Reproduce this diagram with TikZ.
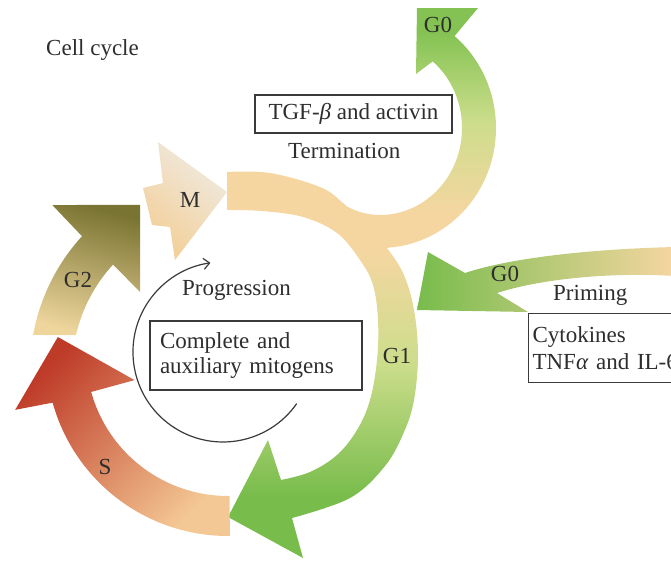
\documentclass[tikz,border=0pt]{standalone}
\usepackage{fontspec}
\setmainfont{Liberation Serif}
\usetikzlibrary{arrows.meta}
\definecolor{txtc}{HTML}{2E2E2E}
\definecolor{boxc}{HTML}{3A3A3A}
\definecolor{peach}{HTML}{F5D6A1}
\definecolor{ygreen}{HTML}{CCDD8B}
\definecolor{green}{HTML}{78BC4C}
\definecolor{tgreen}{HTML}{84C353}
\definecolor{sred}{HTML}{BE3B28}
\definecolor{smid}{HTML}{DB7E58}
\definecolor{speach}{HTML}{F4C894}
\definecolor{olive}{HTML}{7A7432}
\definecolor{olmid}{HTML}{B3A560}
\definecolor{tan}{HTML}{EDD59C}
\definecolor{mcream}{HTML}{EFEBE2}
\definecolor{mpeach}{HTML}{F3CF98}
\pgfdeclareverticalshading{gonesh}{100bp}{color(0bp)=(green); color(33bp)=(green); color(50bp)=(ygreen); color(65bp)=(peach); color(100bp)=(peach)}
\pgfdeclareverticalshading{termsh}{100bp}{color(0bp)=(peach); color(33bp)=(peach); color(52bp)=(ygreen); color(70bp)=(tgreen); color(100bp)=(tgreen)}
\begin{document}
\begin{tikzpicture}[x=1pt,y=1pt,
  lbl/.style={text=txtc, inner sep=0pt, font=\fontsize{23}{27}\selectfont},
  box/.style={draw=boxc, line width=1.1pt, fill=white, text=txtc, inner ysep=0pt},
  g1shade/.style={shading=gonesh},
  termshade/.style={shading=termsh},
  primeshade/.style={left color=green, middle color=ygreen!90!green, right color=peach},
  sshade/.style={top color=sred, middle color=smid, bottom color=speach, shading angle=45},
  gtwoshade/.style={top color=olive, middle color=olmid, bottom color=tan, shading angle=-15},
  mshade/.style={top color=mcream, bottom color=mpeach, shading angle=-40}]
\useasboundingbox (0,0) rectangle (671,-560);

% Termination (G1 -> G0)
\begin{scope}[shift={(380,-128)}]
\shade[termshade] (-95:116 and 120) arc[start angle=-95, end angle=50, x radius=116, y radius=120]
  -- (98,120) -- (37,120) -- (36,54) -- (50:82 and 87)
  arc[start angle=50, end angle=-90, x radius=82, y radius=87]
  .. controls (-15,-87) and (-30,-82) .. (-43,-72) -- (-50,-87) -- cycle;
\end{scope}

% G1
\shade[g1shade] plot[smooth, tension=.6] coordinates {(227,-172) (270,-173) (320,-187) (343,-203) (365,-225) (383,-243) (403,-273) (414,-310) (418,-355) (414,-400) (404,-432) (385,-466) (350,-498) (292,-518)}
  -- (303,-558) -- (228,-517) -- (268,-440) -- (281,-480)
  -- plot[smooth, tension=.6] coordinates {(281,-480) (310,-472) (337,-455) (357,-430) (370,-400) (377,-360) (378,-320) (373,-285) (360,-260) (337,-233) (303,-217) (262,-211) (227,-210)} -- cycle;

% S
\begin{scope}[shift={(228,-354)}]
\shade[sshade] (-89.4:182) arc[start angle=-89.4, end angle=-164.5, radius=182]
  -- (-165.3:220) -- (174.3:171) -- (-164.4:97) -- (-164.5:142)
  arc[start angle=-164.5, end angle=-89.4, radius=142] -- cycle;
\end{scope}

% G2
\begin{scope}[shift={(228,-370)}]
\shade[gtwoshade] (169.8:198) arc[start angle=169.8, end angle=137.5, radius=198]
  -- (136.8:241) -- (118:187) -- (138.4:117.6) -- (137.5:156)
  arc[start angle=137.5, end angle=167.1, radius=156] -- cycle;
\end{scope}

% M
\shade[mshade] (158,-142) -- (227,-192) -- (175,-260) -- (170,-227) -- (152,-225) -- (143,-188) -- (163,-183) -- cycle;

% Priming (G0 -> G1)
\shade[primeshade] (417,-310) -- (428,-252) -- (465,-273)
  .. controls (510,-258) and (590,-249) .. (675,-247) -- (675,-276)
  .. controls (610,-272) and (540,-279) .. (497,-293) -- (528,-312) -- cycle;

% Progression arrow
\coordinate (progstart) at (296.7,-403.6);
\draw[draw=boxc, line width=1.2pt, -{Straight Barb[length=6pt,width=11pt]}] (progstart) arc[start angle=-35, end angle=-262, radius=90];

% Labels
\node[lbl, anchor=base west] (cellcycle) at (46,-55) {Cell cycle};
\node[box, lbl, draw=boxc, fill=white, minimum width=197pt, minimum height=38pt] (tgf) at (353.5,-114) {TGF-\textit{β} and activin};
\node[lbl, anchor=base west] (term) at (288,-158) {Termination};
\node[lbl, anchor=base] (gzerotop) at (438,-32) {G0};
\node[lbl, anchor=base] (m) at (190,-207) {M};
\node[lbl, anchor=base] (gtwo) at (78,-287) {G2};
\node[lbl, anchor=base] (s) at (105,-474) {S};
\node[lbl, anchor=base] (gone) at (397,-363) {G1};
\node[lbl, anchor=base west] (prog) at (182,-295) {Progression};
\node[lbl, anchor=base] (gzero) at (505,-281) {G0};
\node[lbl, anchor=base west] (priming) at (553,-300) {Priming};
\node[box, font=\fontsize{23}{25}\selectfont, text width=192pt, inner xsep=10pt, minimum height=69pt, align=left] (mito) at (256,-355.5) {Complete and\\auxiliary mitogens};
\node[box, font=\fontsize{23}{27}\selectfont, anchor=north west, text width=200pt, inner xsep=4pt, minimum height=69pt, align=left] (cyto) at (528,-313) {Cytokines\\TNF\textit{α} and IL-6};
\end{tikzpicture}
\end{document}
